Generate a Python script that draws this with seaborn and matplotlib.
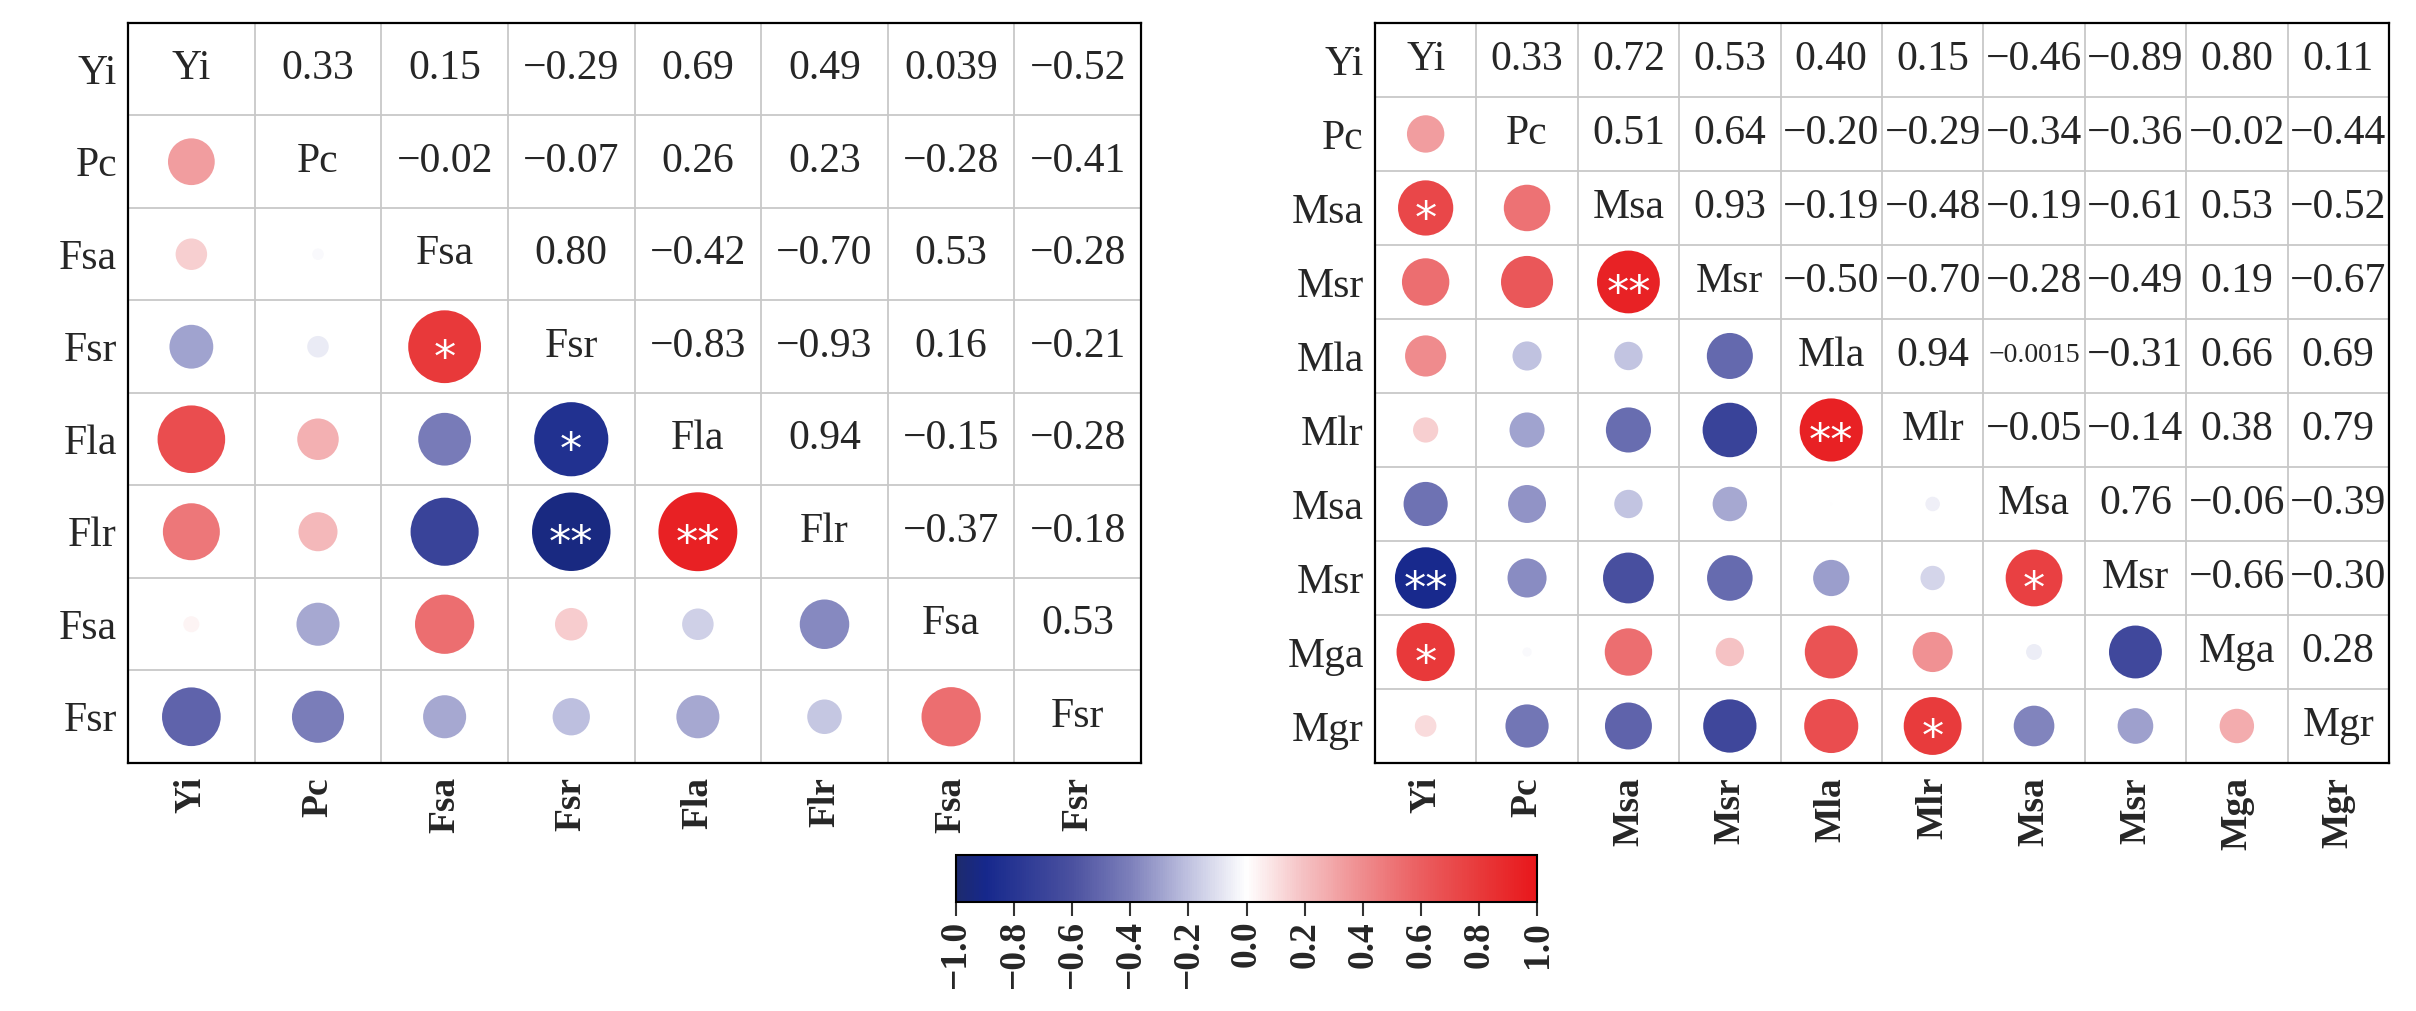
import numpy as np
import pandas as pd
import matplotlib
matplotlib.use("Agg")
import matplotlib.pyplot as plt
import matplotlib.transforms as mtransforms
from matplotlib.colors import LinearSegmentedColormap, Normalize
from matplotlib.cm import ScalarMappable
import seaborn as sns

sns.set_theme(style="white")
plt.rcParams["font.family"] = ["Liberation Serif", "DejaVu Serif"]

# DATA
left_names = ["Yi", "Pc", "Fsa", "Fsr", "Fla", "Flr", "Fsa", "Fsr"]
left_upper = [
    ["0.33", "0.15", "-0.29", "0.69", "0.49", "0.039", "-0.52"],
    ["-0.02", "-0.07", "0.26", "0.23", "-0.28", "-0.41"],
    ["0.80", "-0.42", "-0.70", "0.53", "-0.28"],
    ["-0.83", "-0.93", "0.16", "-0.21"],
    ["0.94", "-0.15", "-0.28"],
    ["-0.37", "-0.18"],
    ["0.53"],
]
left_stars = [(3, 2, "*"), (4, 3, "*"), (5, 3, "**"), (5, 4, "**")]

right_names = ["Yi", "Pc", "Msa", "Msr", "Mla", "Mlr", "Msa", "Msr", "Mga", "Mgr"]
right_upper = [
    ["0.33", "0.72", "0.53", "0.40", "0.15", "-0.46", "-0.89", "0.80", "0.11"],
    ["0.51", "0.64", "-0.20", "-0.29", "-0.34", "-0.36", "-0.02", "-0.44"],
    ["0.93", "-0.19", "-0.48", "-0.19", "-0.61", "0.53", "-0.52"],
    ["-0.50", "-0.70", "-0.28", "-0.49", "0.19", "-0.67"],
    ["0.94", "-0.0015", "-0.31", "0.66", "0.69"],
    ["-0.05", "-0.14", "0.38", "0.79"],
    ["0.76", "-0.06", "-0.39"],
    ["-0.66", "-0.30"],
    ["0.28"],
]
right_stars = [(2, 0, "*"), (3, 2, "**"), (5, 4, "**"), (7, 0, "**"),
               (7, 6, "*"), (8, 0, "*"), (9, 5, "*")]

cbar_ticks = [-1.0, -0.8, -0.6, -0.4, -0.2, 0.0, 0.2, 0.4, 0.6, 0.8, 1.0]

cmap = LinearSegmentedColormap.from_list("corr", [
    (0.00, "#1d2a6e"), (0.05, "#16288c"), (0.20, "#4b51a0"),
    (0.30, "#7d80bb"), (0.40, "#c0c2e0"), (0.50, "#ffffff"),
    (0.60, "#f5c0c2"), (0.70, "#ef8c8e"), (0.80, "#eb5e60"),
    (0.90, "#e83a3b"), (1.00, "#e8171b")])


def fmt(s):
    return s.replace("-", "\u2212")


def draw_panel(fig, ax, names, upper, stars, smax):
    n = len(names)
    mat = np.eye(n)
    for i, row in enumerate(upper):
        for k, s in enumerate(row):
            j = i + 1 + k
            mat[i, j] = mat[j, i] = float(s)
    recs = []
    for i in range(n):
        for j in range(i):
            recs.append({"x": j, "y": i, "r": mat[i, j], "a": abs(mat[i, j])})
    df = pd.DataFrame(recs)
    ax.set_axisbelow(True)
    sns.scatterplot(data=df, x="x", y="y", hue="r", palette=cmap, hue_norm=(-1, 1),
                    size="a", sizes=(0, smax), size_norm=(0, 1), linewidth=0,
                    legend=False, ax=ax, zorder=3)
    # upper triangle numbers and diagonal names
    for i in range(n):
        ax.text(i, i, names[i], ha="center", va="center", fontsize=30)
        for k, s in enumerate(upper[i] if i < len(upper) else []):
            j = i + 1 + k
            fs = 20 if len(s) > 6 else 30
            ax.text(j, i, fmt(s), ha="center", va="center", fontsize=fs)
    star_tr = mtransforms.offset_copy(ax.transData, fig=fig, x=0, y=-9, units="points")
    for (i, j, s) in stars:
        ax.text(j, i, s, ha="center", va="center", fontsize=32, color="white",
                family="DejaVu Sans", transform=star_tr, zorder=4)
    ax.set_xlim(-0.5, n - 0.5)
    ax.set_ylim(n - 0.5, -0.5)
    ax.set_xticks(range(n))
    ax.set_xticklabels(names, rotation=90, fontsize=27, fontweight="bold")
    ax.set_yticks(range(n))
    ax.set_yticklabels(names, fontsize=30)
    ax.set_xticks(np.arange(0.5, n - 1, 1), minor=True)
    ax.set_yticks(np.arange(0.5, n - 1, 1), minor=True)
    ax.grid(True, which="minor", color="#c8c8c8", linewidth=1.3)
    ax.grid(False, which="major")
    ax.tick_params(which="both", length=0)
    ax.tick_params(axis="x", pad=10)
    ax.tick_params(axis="y", pad=8)
    ax.set_xlabel("")
    ax.set_ylabel("")
    for sp in ax.spines.values():
        sp.set_color("black")
        sp.set_linewidth(1.6)


fig = plt.figure(figsize=(24.16, 10.11), dpi=100)
ax1 = fig.add_axes([0.0530, 0.2453, 0.4193, 0.7320])
ax2 = fig.add_axes([0.5691, 0.2453, 0.4197, 0.7320])
draw_panel(fig, ax1, left_names, left_upper, left_stars, 3434)
draw_panel(fig, ax2, right_names, right_upper, right_stars, 2197)

cax = fig.add_axes([0.3957, 0.1078, 0.2405, 0.0465])
sm = ScalarMappable(norm=Normalize(-1, 1), cmap=cmap)
cb = fig.colorbar(sm, cax=cax, orientation="horizontal", ticks=cbar_ticks)
cb.set_ticklabels([fmt(f"{v:.1f}") for v in cbar_ticks])
cb.ax.tick_params(labelsize=27, length=10, width=1.5, labelrotation=90, color="#333333")
for lab in cb.ax.get_xticklabels():
    lab.set_fontweight("bold")
cb.outline.set_linewidth(1.5)
cb.outline.set_edgecolor("black")

fig.savefig("out.png", dpi=100)
